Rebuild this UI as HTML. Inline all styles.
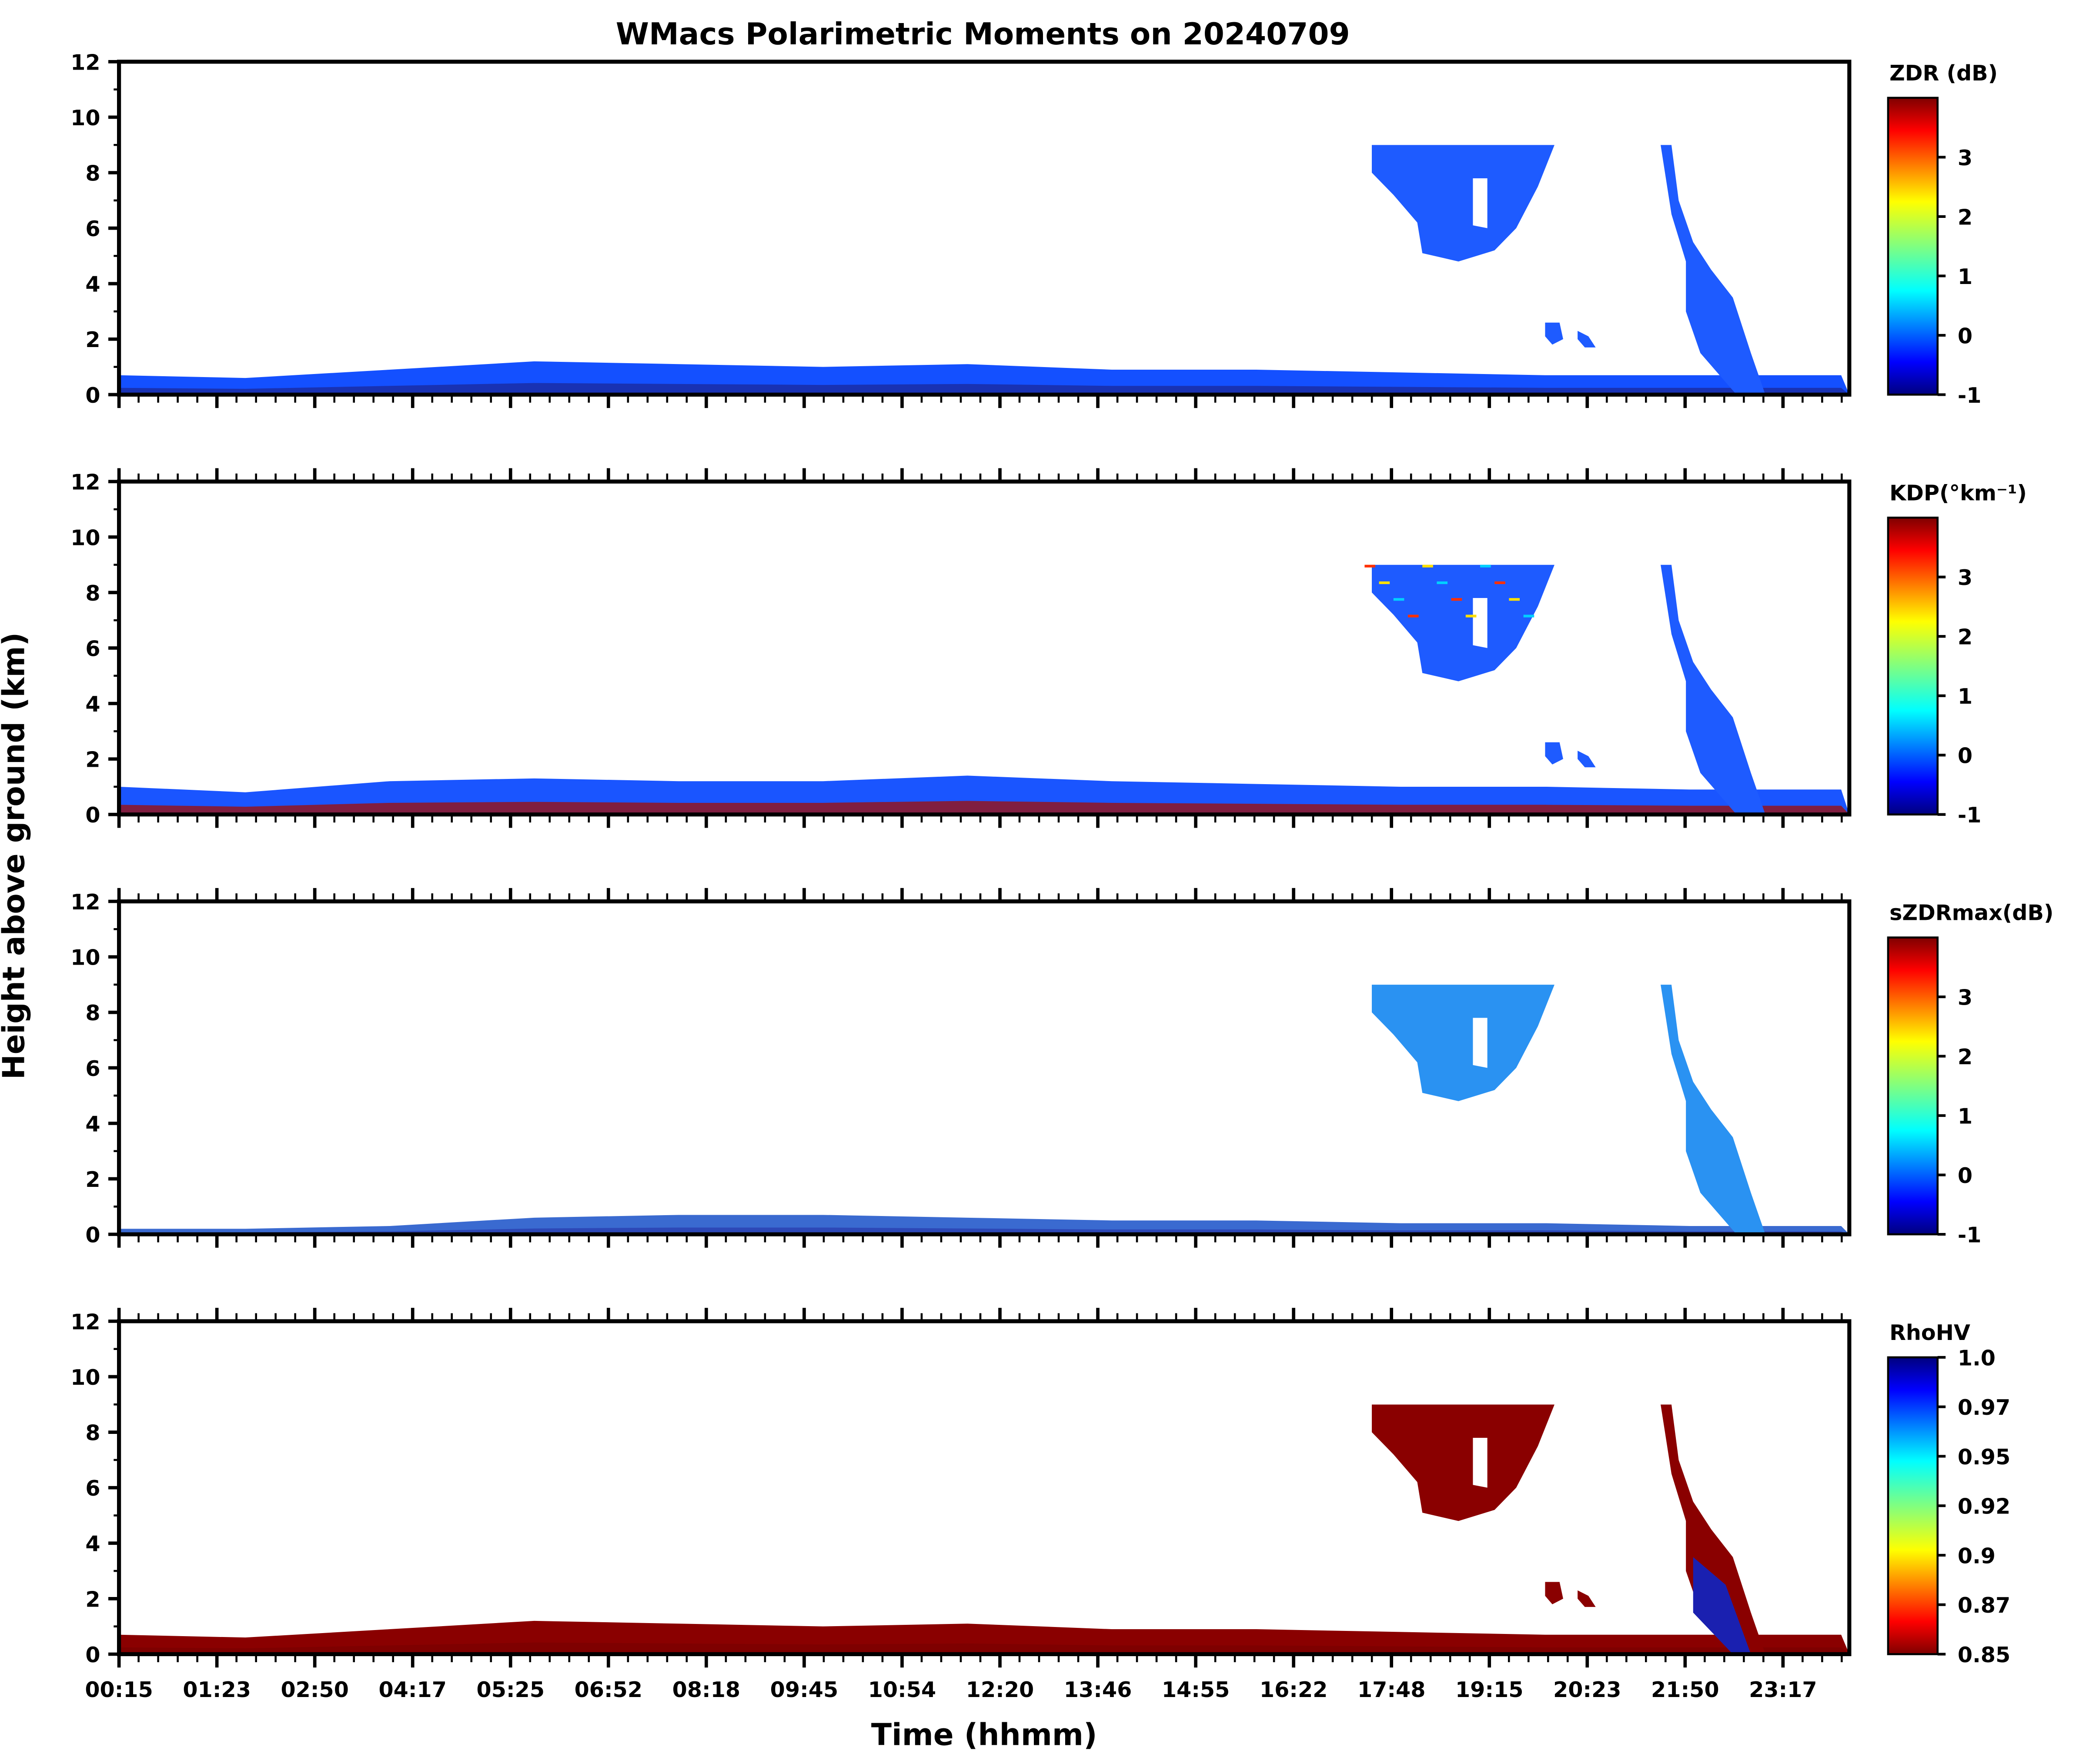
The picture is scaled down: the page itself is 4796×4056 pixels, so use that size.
<!DOCTYPE html>
<html><head><meta charset="utf-8"><style>
html,body{margin:0;padding:0;background:#fff}
svg{display:block}
text{font-family:"DejaVu Sans","Liberation Sans",sans-serif;font-weight:bold;fill:#000}
</style></head><body>
<svg id="fig" width="4796" height="4056" viewBox="0 0 1560 1319" xmlns="http://www.w3.org/2000/svg">
<defs>
<linearGradient id="jet" x1="0" y1="1" x2="0" y2="0">
<stop offset="0" stop-color="#00007f"/><stop offset="0.11" stop-color="#0000ff"/><stop offset="0.35" stop-color="#00ffff"/><stop offset="0.5" stop-color="#80ff80"/><stop offset="0.65" stop-color="#ffff00"/><stop offset="0.89" stop-color="#ff0000"/><stop offset="1" stop-color="#7f0000"/>
</linearGradient>
<linearGradient id="jetr" x1="0" y1="0" x2="0" y2="1">
<stop offset="0" stop-color="#00007f"/><stop offset="0.11" stop-color="#0000ff"/><stop offset="0.35" stop-color="#00ffff"/><stop offset="0.5" stop-color="#80ff80"/><stop offset="0.65" stop-color="#ffff00"/><stop offset="0.89" stop-color="#ff0000"/><stop offset="1" stop-color="#7f0000"/>
</linearGradient>
</defs>
<text x="735" y="33" font-size="22.5" text-anchor="middle">WMacs Polarimetric Moments on 20240709</text>
<text x="18" y="640" font-size="22.5" text-anchor="middle" transform="rotate(-90 18 640)">Height above ground (km)</text>
<text x="736" y="1305" font-size="22.5" text-anchor="middle">Time (hhmm)</text>
<g id="g"></g>
</svg>
<script>
const timeLabels=["00:15","01:23","02:50","04:17","05:25","06:52","08:18","09:45","10:54","12:20","13:46","14:55","16:22","17:48","19:15","20:23","21:50","23:17"];
const yTicks=[0,2,4,6,8,10,12];
const blHours=[0.25,2,4,6,8,10,12,14,16,18,20,22,24.1];
const blTop=[0.7,0.6,0.9,1.2,1.1,1.0,1.1,0.9,0.9,0.8,0.7,0.7,0.7];
const blTopKdp=[1.0,0.8,1.2,1.3,1.2,1.2,1.4,1.2,1.1,1.0,1.0,0.9,0.9];
const blTopSzdr=[0.2,0.2,0.3,0.6,0.7,0.7,0.6,0.5,0.5,0.4,0.4,0.3,0.3];
const cloudA=[[17.43,9],[20.13,9],[19.9,7.5],[19.6,6],[19.3,5.2],[18.8,4.8],[18.3,5.1],[18.23,6.2],[17.9,7.2],[17.6,8.0],[17.6,9]];
const gapA=[[19.0,7.8],[19.2,7.8],[19.2,6.0],[19.0,6.1]];
const streak=[[21.6,9],[21.75,9],[21.85,7],[22.05,5.5],[22.3,4.5],[22.6,3.5],[22.85,1.5],[23.05,0],[22.65,0],[22.15,1.5],[21.95,3],[21.95,4.8],[21.75,6.5]];
const blobs=[[[20.0,2.6],[20.2,2.6],[20.25,2.0],[20.1,1.8],[20.0,2.1]],[[20.45,2.3],[20.6,2.1],[20.7,1.7],[20.55,1.7],[20.45,2.0]]];
const panels=[
 {name:"zdr",top:46,label:"ZDR (dB)",cb:["-1","0","1","2","3"],cbv:[-1,0,1,2,3],cmin:-1,cmax:4,fill:"#1e5bff",bl:blTop,blc:"#1450ff",low:"#1a2aa0",grad:"url(#jet)"},
 {name:"kdp",top:360,label:"KDP(°km⁻¹)",cb:["-1","0","1","2","3"],cbv:[-1,0,1,2,3],cmin:-1,cmax:4,fill:"#1e5bff",bl:blTopKdp,blc:"#1a55ff",low:"#9a1010",grad:"url(#jet)"},
 {name:"szdr",top:674,label:"sZDRmax(dB)",cb:["-1","0","1","2","3"],cbv:[-1,0,1,2,3],cmin:-1,cmax:4,fill:"#2a92f2",bl:blTopSzdr,blc:"#3a6ad0",low:"#2a40b0",grad:"url(#jet)"},
 {name:"rhohv",top:988,label:"RhoHV",cb:["1.0","0.97","0.95","0.92","0.9","0.87","0.85"],cbv:[1.0,0.975,0.95,0.925,0.9,0.875,0.85],cmin:0.85,cmax:1.0,fill:"#8a0000",bl:blTop,blc:"#8a0000",low:"#7a0000",grad:"url(#jetr)",rev:true}
];
const X0=89,X1=1383,H=249;
function xs(t){return X0+(t-0.25)*54;}
const NS="http://www.w3.org/2000/svg";
const g=document.getElementById('g');
function el(tag,attrs,parent){const e=document.createElementNS(NS,tag);for(const k in attrs)e.setAttribute(k,attrs[k]);(parent||g).appendChild(e);return e;}
panels.forEach((p,pi)=>{
 const top=p.top,bot=top+H;
 const ys=v=>bot-v/12*H;
 const grp=el('g',{});
 
 
 const pts=a=>a.map(q=>xs(q[0]).toFixed(1)+','+ys(q[1]).toFixed(1)).join(' ');
 let d='M'+xs(blHours[0])+','+bot;
 blHours.forEach((h,i)=>{d+=' L'+Math.min(xs(h),X1)+','+ys(p.bl[i]);});
 d+=' L'+X1+','+bot+' Z';
 const bl=el('path',{d:d,fill:p.blc},grp);
 
 
 let d2='M'+X0+','+bot;
 blHours.forEach((h,i)=>{d2+=' L'+Math.min(xs(h),X1)+','+ys(p.bl[i]*0.35);});
 d2+=' L'+X1+','+bot+' Z';
 const bl2=el('path',{d:d2,fill:p.low,opacity:0.8},grp);
 
 
 if(p.name!=="szdr"){
  blobs.forEach((b,bi)=>{const e=el('polygon',{points:pts(b),fill:p.fill},grp);
  
  });
 }
 const c=el('polygon',{points:pts(cloudA),fill:p.fill},grp);
 
 
 el('polygon',{points:pts(gapA),fill:'#fff'},grp);
 const s=el('polygon',{points:pts(streak),fill:p.fill},grp);
 
 
 if(p.name==="kdp"){
  for(let k=0;k<12;k++){el('rect',{x:xs(17.5+k*0.2),y:ys(9-k%4*0.6),width:8,height:2,fill:['#ff3000','#ffe000','#00d0ff'][k%3]},grp);}
 }
 if(p.name==="rhohv"){
  el('polygon',{points:pts([[22.05,3.5],[22.5,2.5],[22.85,0],[22.6,0],[22.05,1.5]]),fill:'#1a20b0'},grp);
 }
 const fr=el('rect',{x:X0,y:top,width:X1-X0,height:H,fill:'none',stroke:'#000','stroke-width':3},grp);
 
 
 for(let v=0;v<=12;v++){const y=ys(v);el('line',{x1:X0,x2:X0-(v%2?4:8),y1:y,y2:y,stroke:'#000','stroke-width':v%2?1.5:2.5},grp);}
 yTicks.forEach(v=>{const t=el('text',{x:X0-14,y:ys(v)+6,'font-size':16,'text-anchor':'end'},grp);t.textContent=v;
 
 });
 for(let k=0;k<=88;k++){const x=X0+k*14.64;if(x>X1+0.5)break;const maj=k%5===0;
  el('line',{x1:x,x2:x,y1:bot,y2:bot+(maj?10:6),stroke:'#000','stroke-width':maj?2.5:1.5},grp);
  if(pi>0)el('line',{x1:x,x2:x,y1:top,y2:top-(maj?10:6),stroke:'#000','stroke-width':maj?2.5:1.5},grp);}
 if(pi===3){timeLabels.forEach((l,i)=>{const t=el('text',{x:X0+i*73.2,y:bot+32,'font-size':16,'text-anchor':'middle'},grp);t.textContent=l;
 
 });}
 const cbT=top+27,cbB=bot,cbH=cbB-cbT;
 const cb=el('rect',{x:1412,y:cbT,width:37,height:cbH,fill:p.grad,stroke:'#000','stroke-width':1.5},grp);
 
 
 const lt=el('text',{x:1413,y:top+14,'font-size':16},grp);lt.textContent=p.label;
 
 
 p.cbv.forEach((v,i)=>{const y=cbB-(v-p.cmin)/(p.cmax-p.cmin)*cbH;
  el('line',{x1:1449,x2:1455,y1:y,y2:y,stroke:'#000','stroke-width':2},grp);
  const t=el('text',{x:1464,y:y+6,'font-size':16},grp);t.textContent=p.cb[i];
  
  });
});
</script>
</body></html>
